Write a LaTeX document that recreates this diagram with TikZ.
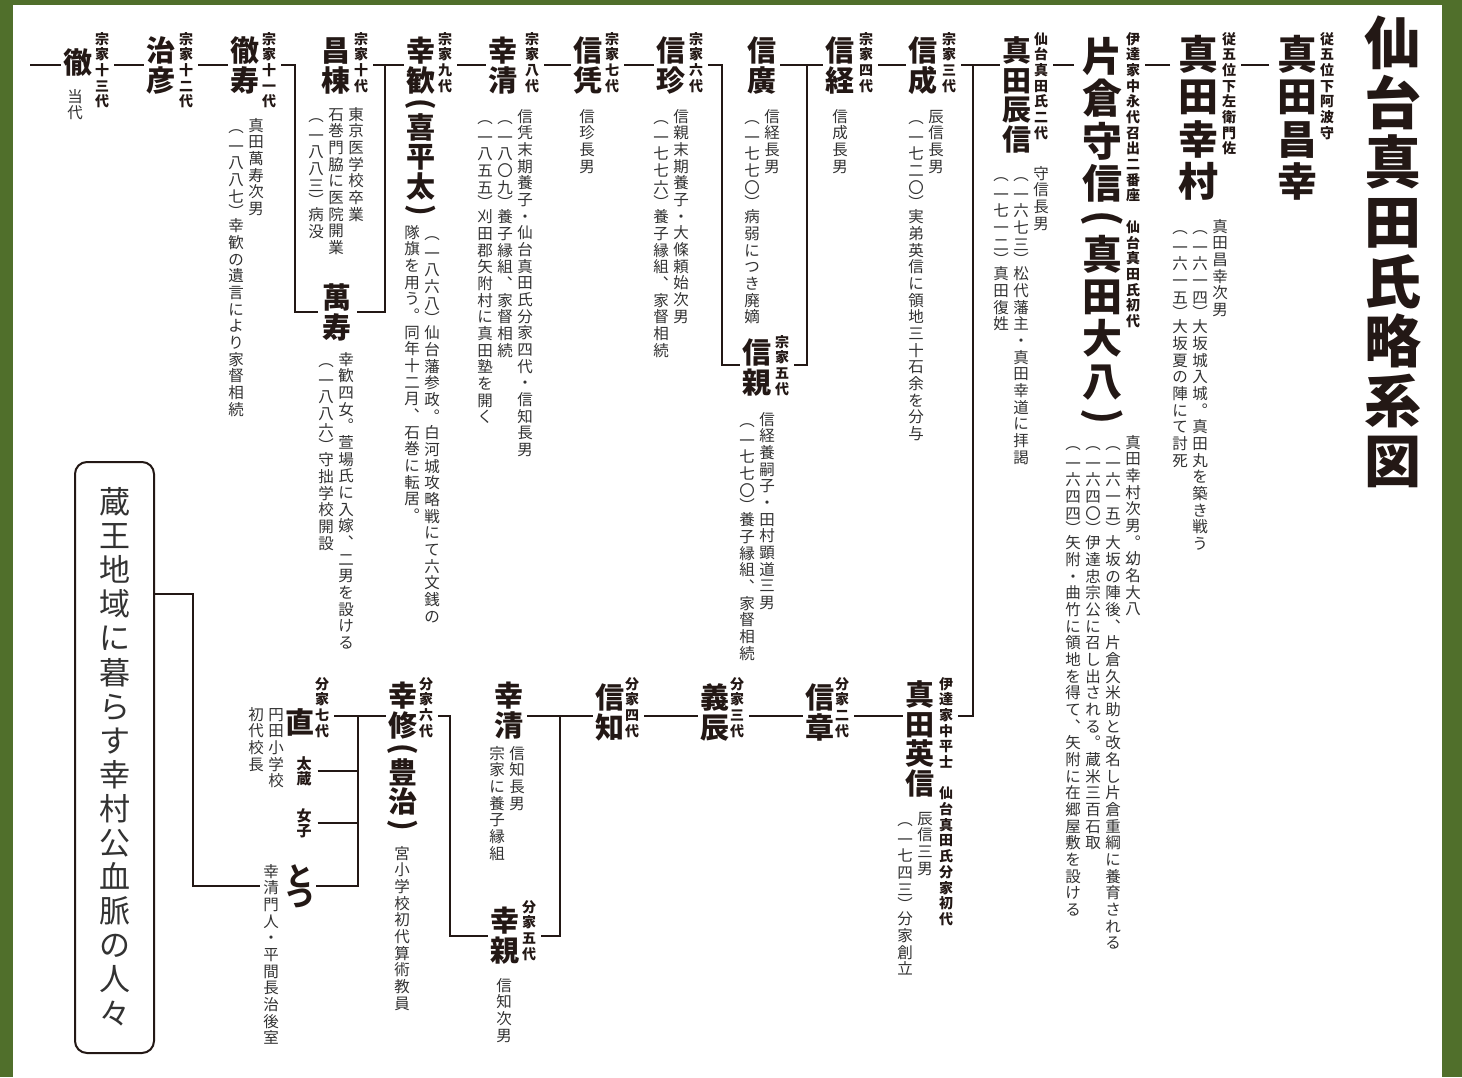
\documentclass[tikz,border=0pt]{standalone}
\usepackage{graphicx}
\usepackage{fontspec}
\XeTeXuseglyphmetrics=1
\newfontfamily\jp{Noto Sans CJK JP}
\definecolor{framegreen}{RGB}{80,111,43}
\definecolor{ink}{RGB}{35,24,21}
\definecolor{bodyink}{RGB}{50,50,50}

\ExplSyntaxOn
\tl_new:N \l_vt_pitch_tl
\tl_set:Nn \l_vt_pitch_tl {1}
\tl_new:N \l_vt_paren_tl
\tl_set:Nn \l_vt_paren_tl {1}
\dim_new:N \l_vt_colgap_dim
\dim_set:Nn \l_vt_colgap_dim {4.5pt}
\box_new:N \l_vt_box
\seq_new:N \l_vt_seq
\bool_new:N \l_vt_first_bool
\bool_new:N \l_vt_rot_bool

\cs_new_protected:Npn \vt_cell:n #1
  {
    \hbox_to_wd:nn { 1em }
      {
        \hss
        \vrule~height~\dim_eval:n { 0.88em + (\l_vt_pitch_tl em - 1em) / 2 }
        ~depth~\dim_eval:n { 0.12em + (\l_vt_pitch_tl em - 1em) / 2 }
        ~width~0pt\relax
        \smash {#1}
        \hss
      }
  }
\cs_new_protected:Npn \vt_pcell:n #1
  {
    \hbox_set:Nn \l_vt_box { #1 }
    \hbox_to_wd:nn { 1em }
      {
        \hss
        \vrule~height~\dim_eval:n { \l_vt_paren_tl em / 2 }
        ~depth~\dim_eval:n { \l_vt_paren_tl em / 2 }
        ~width~0pt\relax
        \smash
          {
            \box_move_down:nn
              { ( \box_ht:N \l_vt_box - \box_dp:N \l_vt_box ) / 2 }
              { \box_use:N \l_vt_box }
          }
        \hss
      }
  }
\cs_new_protected:Npn \vt_char:n #1
  {
    \str_case:nnF { #1 }
      {
        { （ }
          {
            \bool_if:NTF \l_vt_rot_bool
              { \vt_pcell:n { \rotatebox{-90}{(} } }
              { \vt_pcell:n { ︵ } }
          }
        { ） }
          {
            \bool_if:NTF \l_vt_rot_bool
              { \vt_pcell:n { \rotatebox{-90}{)} } }
              { \vt_pcell:n { ︶ } }
          }
        { 、 } { \vt_cell:n { ︑ } }
        { 。 } { \vt_cell:n { ︒ } }
      }
      { \vt_cell:n { #1 } }
  }
\NewDocumentCommand \VT { m }
  {
    \vtop
      {
        \offinterlineskip
        \tl_map_inline:nn { #1 } { \vt_char:n { ##1 } }
      }
  }
\NewDocumentCommand \VP { m }
  {
    \seq_set_split:Nnn \l_vt_seq { | } { #1 }
    \seq_reverse:N \l_vt_seq
    \hbox:n
      {
        \bool_set_true:N \l_vt_first_bool
        \seq_map_inline:Nn \l_vt_seq
          {
            \bool_if:NF \l_vt_first_bool { \hskip \l_vt_colgap_dim }
            \bool_set_false:N \l_vt_first_bool
            \VT { ##1 }
          }
      }
  }
\NewDocumentCommand \SetPitch { m } { \tl_set:Nn \l_vt_pitch_tl {#1} }
\NewDocumentCommand \SetParen { m } { \tl_set:Nn \l_vt_paren_tl {#1} }
\NewDocumentCommand \RotParens { } { \bool_set_true:N \l_vt_rot_bool }
\ExplSyntaxOff

\tikzset{
  every node/.style={inner sep=0pt, outer sep=0pt, text=ink},
  titletxt/.style={font=\jp\bfseries\fontsize{57}{57}\selectfont\SetPitch{1.047}, anchor=north},
  bigname/.style={font=\jp\bfseries\fontsize{40}{40}\selectfont\SetPitch{1.06}\SetParen{0.7}\RotParens, anchor=north, outer xsep=8pt},
  pname/.style={font=\jp\bfseries\fontsize{29}{29}\selectfont\SetPitch{1.02}\SetParen{0.6}\RotParens, anchor=north, outer xsep=3pt},
  gen/.style={font=\jp\bfseries\fontsize{14}{14}\selectfont\SetPitch{1.12}, anchor=north, outer xsep=5pt},
  smallname/.style={font=\jp\bfseries\fontsize{15}{15}\selectfont\SetPitch{1.0}, anchor=north, outer xsep=6pt},
  kananame/.style={font=\jp\bfseries\fontsize{27}{27}\selectfont\SetPitch{0.8}, anchor=north, outer xsep=2pt},
  bodytxt/.style={font=\jp\fontsize{15.5}{16}\selectfont\SetPitch{1.075}\SetParen{0.85}, text=bodyink, anchor=north east},
  groupbox/.style={draw=ink, line width=2pt, rounded corners=12pt, minimum width=79pt, minimum height=591pt,
    font=\jp\fontsize{31}{31}\selectfont\SetPitch{1.1}, text=bodyink},
  conn/.style={draw=ink, line width=2.2pt},
}

\begin{document}
\begin{tikzpicture}[x=1pt,y=-1pt]
\useasboundingbox (0,0) rectangle (1462,1077);
\fill[framegreen] (0,0) rectangle (1462,1077);
\fill[white] (12.5,5) rectangle (1442,1077);
\coordinate (topy) at (0,65);
\coordinate (boty) at (0,716);

\node[titletxt] (title) at (1393,13) {\VT{仙台真田氏略系図}};

% ---------- top row ----------
\node[bigname] (masayuki) at (1297,33) {\VT{真田昌幸}};
\node[gen] (masayukiG) at (1327,31) {\VT{従五位下阿波守}};

\node[bigname] (yukimura) at (1198,33) {\VT{真田幸村}};
\node[gen] (yukimuraG) at (1229,31) {\VT{従五位下左衛門佐}};
\node[bodytxt] (yukimuraD) at (1227.75,218) {\VP{真田昌幸次男|（一六一四）大坂城入城。真田丸を築き戦う|（一六一五）大坂夏の陣にて討死}};

\node[bigname] (katakura) at (1102,35) {\VT{片倉守信（真田大八）}};
\node[gen] (katakuraG) at (1133,31) {\VT{伊達家中永代召出二番座　仙台真田氏初代}};
\node[bodytxt] (katakuraD) at (1140.75,434) {\VP{真田幸村次男。幼名大八|（一六一五）大坂の陣後、片倉久米助と改名し片倉重綱に養育される|（一六四〇）伊達忠宗公に召し出される。蔵米三百石取|（一六四四）矢附・曲竹に領地を得て、矢附に在郷屋敷を設ける}};

\node[pname] (tatsunobu) at (1017,36) {\VT{真田辰信}};
\node[gen] (tatsunobuG) at (1041,31) {\VT{仙台真田氏二代}};
\node[bodytxt] (tatsunobuD) at (1048.75,165) {\VP{守信長男|（一六七三）松代藩主・真田幸道に拝謁|（一七一二）真田復姓}};

\node[pname] (nobushige) at (923,36) {\VT{信成}};
\node[gen] (nobushigeG) at (949,31) {\VT{宗家三代}};
\node[bodytxt] (nobushigeD) at (943.75,108) {\VP{辰信長男|（一七二〇）実弟英信に領地三十石余を分与}};

\node[pname] (nobutsune) at (840,36) {\VT{信経}};
\node[gen] (nobutsuneG) at (866,31) {\VT{宗家四代}};
\node[bodytxt] (nobutsuneD) at (847.75,108) {\VP{信成長男}};

\node[pname] (nobuhiro) at (762,36) {\VT{信廣}};
\node[bodytxt] (nobuhiroD) at (779.75,108) {\VP{信経長男|（一七七〇）病弱につき廃嫡}};

\node[pname] (nobuchika) at (757,338) {\VT{信親}};
\node[gen] (nobuchikaG) at (782,334) {\VT{宗家五代}};
\node[bodytxt] (nobuchikaD) at (774.75,411) {\VP{信経養嗣子・田村顕道三男|（一七七〇）養子縁組、家督相続}};

\node[pname] (nobuyoshi) at (671,36) {\VT{信珍}};
\node[gen] (nobuyoshiG) at (696,31) {\VT{宗家六代}};
\node[bodytxt] (nobuyoshiD) at (688.75,108) {\VP{信親末期養子・大條頼始次男|（一七七六）養子縁組、家督相続}};

\node[pname] (nobuyori) at (588,36) {\VT{信凭}};
\node[gen] (nobuyoriG) at (612,31) {\VT{宗家七代}};
\node[bodytxt] (nobuyoriD) at (594.75,108) {\VP{信珍長男}};

\node[pname] (yukikiyo) at (503,36) {\VT{幸清}};
\node[gen] (yukikiyoG) at (532,31) {\VT{宗家八代}};
\node[bodytxt] (yukikiyoD) at (532.75,108) {\VP{信凭末期養子・仙台真田氏分家四代・信知長男|（一八〇九）養子縁組、家督相続|（一八五五）刈田郡矢附村に真田塾を開く}};

\node[pname] (yukiyoshi) at (421,36) {\VT{幸歓（喜平太）}};
\node[gen] (yukiyoshiG) at (445,31) {\VT{宗家九代}};
\node[bodytxt] (yukiyoshiD) at (439.75,224) {\VP{（一八六八）仙台藩参政。白河城攻略戦にて六文銭の|隊旗を用う。同年十二月、石巻に転居。}};

\node[pname] (masamune) at (336,36) {\VT{昌棟}};
\node[gen] (masamuneG) at (361,31) {\VT{宗家十代}};
\node[bodytxt] (masamuneD) at (363.75,106) {\VP{東京医学校卒業|石巻門脇に医院開業|（一八八三）病没}};

\node[pname, outer xsep=5pt] (manju) at (337,283) {\VT{萬寿}};
\node[bodytxt] (manjuD) at (353.75,351) {\VP{幸歓四女。萱場氏に入嫁、二男を設ける|（一八八六）守拙学校開設}};

\node[pname] (tetsuju) at (245,36) {\VT{徹寿}};
\node[gen] (tetsujuG) at (269,31) {\VT{宗家十一代}};
\node[bodytxt] (tetsujuD) at (263.75,117) {\VP{真田萬寿次男|（一八八七）幸歓の遺言により家督相続}};

\node[pname] (haruhiko) at (161,36) {\VT{治彦}};
\node[gen] (haruhikoG) at (186,31) {\VT{宗家十二代}};

\node[pname] (toru) at (78,48) {\VT{徹}};
\node[gen] (toruG) at (102,31) {\VT{宗家十三代}};
\node[bodytxt] (toruD) at (82.75,88) {\VP{当代}};
\coordinate (toruEnd) at (30,65);

% ---------- bottom row ----------
\node[pname] (hidenobu) at (920,680) {\VT{真田英信}};
\node[gen] (hidenobuG) at (946,676) {\VT{伊達家中平士　仙台真田氏分家初代}};
\node[bodytxt] (hidenobuD) at (932.75,810) {\VP{辰信三男|（一七四三）分家創立}};

\node[pname] (nobuaki) at (820,683) {\VT{信章}};
\node[gen] (nobuakiG) at (842,676) {\VT{分家二代}};

\node[pname] (yoshitoki) at (715,683) {\VT{義辰}};
\node[gen] (yoshitokiG) at (737,676) {\VT{分家三代}};

\node[pname] (nobutomo) at (610,683) {\VT{信知}};
\node[gen] (nobutomoG) at (632,676) {\VT{分家四代}};

\node[pname] (yukikiyoB) at (509,681) {\VT{幸清}};
\node[bodytxt] (yukikiyoBD) at (524.75,745) {\VP{信知長男|宗家に養子縁組}};

\node[pname] (yukichika) at (505,906) {\VT{幸親}};
\node[gen] (yukichikaG) at (529,899) {\VT{分家五代}};
\node[bodytxt] (yukichikaD) at (511.75,977) {\VP{信知次男}};

\node[pname] (yukinaga) at (403,681) {\VT{幸修（豊治）}};
\node[gen] (yukinagaG) at (426,676) {\VT{分家六代}};
\node[bodytxt] (yukinagaD) at (409.75,845) {\VP{宮小学校初代算術教員}};

\node[pname] (nao) at (300,708) {\VT{直}};
\node[gen] (naoG) at (322,676) {\VT{分家七代}};
\node[bodytxt] (naoD) at (283.75,706) {\VP{円田小学校|初代校長}};

\node[smallname] (taizo) at (304,756) {\VT{太蔵}};
\node[smallname] (joshi) at (304,808) {\VT{女子}};
\node[kananame] (totsu) at (300,865) {\VT{とつ}};
\node[bodytxt, outer xsep=3pt] (totsuD) at (281.75,863) {\VP{幸清門人・平間長治後室}};

\node[groupbox] (group) at (114.5,757.5) {\VT{蔵王地域に暮らす幸村公血脈の人々}};

% ---------- junction coordinates ----------
\coordinate (jHide) at (973,716);
\coordinate (jChikaR) at (807,365);
\coordinate (jChikaL) at (722,365);
\coordinate (jManjuR) at (385,312);
\coordinate (jManjuL) at (295,312);
\coordinate (jYukiR) at (560,936);
\coordinate (jYukiL) at (450,716);
\coordinate (jNao) at (358,886);
\coordinate (jBox) at (193,594);

% ---------- top connectors ----------
\draw[conn] (masayuki.west |- topy) -- (yukimuraG.east |- topy);
\draw[conn] (yukimura.west |- topy) -- (katakuraG.east |- topy);
\draw[conn] (katakura.west |- topy) -- (tatsunobuG.east |- topy);
\draw[conn] (tatsunobu.west |- topy) -- (nobushigeG.east |- topy);
\draw[conn] (jHide |- topy) -- (jHide) -- (hidenobuG.east |- jHide);
\draw[conn] (nobushige.west |- topy) -- (nobutsuneG.east |- topy);
\draw[conn] (nobutsune.west |- topy) -- (nobuhiro.east |- topy);
\draw[conn] (jChikaR |- topy) -- (jChikaR) -- (nobuchikaG.east |- jChikaR);
\draw[conn] (nobuyoshiG.east |- topy) -| (jChikaL) -- (nobuchika.west |- jChikaL);
\draw[conn] (nobuyoshi.west |- topy) -- (nobuyoriG.east |- topy);
\draw[conn] (nobuyori.west |- topy) -- (yukikiyoG.east |- topy);
\draw[conn] (yukikiyo.west |- topy) -- (yukiyoshiG.east |- topy);
\draw[conn] (yukiyoshi.west |- topy) -- (masamuneG.east |- topy);
\draw[conn] (jManjuR |- topy) -- (jManjuR) -- (manju.east |- jManjuR);
\draw[conn] (tetsujuG.east |- topy) -| (jManjuL) -- (manju.west |- jManjuL);
\draw[conn] (tetsuju.west |- topy) -- (haruhikoG.east |- topy);
\draw[conn] (haruhiko.west |- topy) -- (toruG.east |- topy);
\draw[conn] (toru.west |- topy) -- (toruEnd);

% ---------- bottom connectors ----------
\draw[conn] (hidenobu.west |- boty) -- (nobuakiG.east |- boty);
\draw[conn] (nobuaki.west |- boty) -- (yoshitokiG.east |- boty);
\draw[conn] (yoshitoki.west |- boty) -- (nobutomoG.east |- boty);
\draw[conn] (nobutomo.west |- boty) -- (yukikiyoB.east |- boty);
\draw[conn] (jYukiR |- boty) -- (jYukiR) -- (yukichikaG.east |- jYukiR);
\draw[conn] (yukichika.west |- jYukiR) -| (jYukiL) -- (yukinagaG.east |- jYukiL);
\draw[conn] (yukinaga.west |- boty) -- (naoG.east |- boty);
\draw[conn] (jNao |- boty) -- (jNao) -- (totsu.east |- jNao);
\draw[conn] (taizo.east) -- (taizo.east -| jNao);
\draw[conn] (joshi.east) -- (joshi.east -| jNao);
\draw[conn] (group.east |- jBox) -- (jBox) |- (totsuD.west |- jNao);
\end{tikzpicture}
\end{document}
